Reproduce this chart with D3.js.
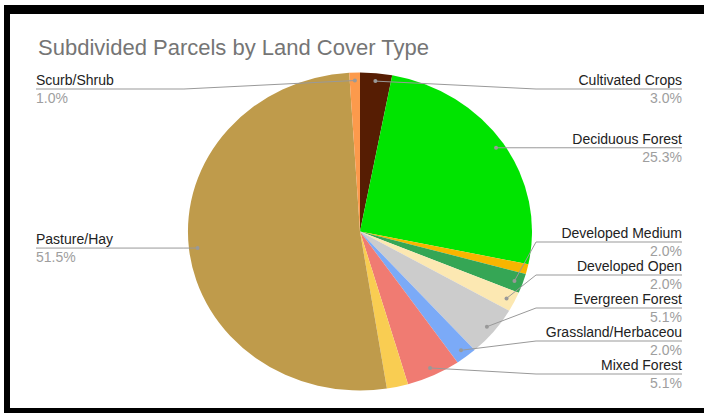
<!DOCTYPE html>
<meta charset="utf-8">
<style>
  body { margin: 0; background: #fff; }
  text { font-family: "Liberation Sans", Arial, sans-serif; }
</style>
<body>

<div class="chart"></div>

<!-- load the d3.js library -->
<script src="https://d3js.org/d3.v7.min.js"></script>

<script>

// chart data (percent of subdivided parcels)
var categories = ["Cultivated Crops", "Deciduous Forest", "Developed High", "Developed Medium",
                  "Developed Open", "Evergreen Forest", "Grassland/Herbaceou", "Mixed Forest",
                  "Open Water", "Pasture/Hay", "Scurb/Shrub"];
var values = [3.0, 25.3, 1.0, 2.0, 2.0, 5.1, 2.0, 5.1, 2.0, 51.5, 1.0];
var colors = ["#561d03", "#00e400", "#f8b500", "#35a655", "#fce8b2", "#cccccc",
              "#7baaf7", "#f07b72", "#f9cd52", "#bf9b4b", "#fc9a4c"];
// slices too thin to get a label in the original
var hidden = ["Developed High", "Open Water"];

var width = 704, height = 413;
var cx = 360, cy = 231.5, r = 159, sx = 1.082;   // pie is a bit stretched sideways

var svg = d3.select(".chart").append("svg")
    .attr("width", width)
    .attr("height", height);

// black frame
svg.append("rect").attr("x", 0).attr("y", 0).attr("width", width).attr("height", height).attr("fill", "#fff");
svg.append("rect").attr("x", 4).attr("y", 5).attr("width", 700).attr("height", 9).attr("fill", "#000");
svg.append("rect").attr("x", 4).attr("y", 5).attr("width", 6).attr("height", 408).attr("fill", "#000");
svg.append("rect").attr("x", 4).attr("y", 408).attr("width", 700).attr("height", 5).attr("fill", "#000");

// title
svg.append("text")
    .attr("x", 38)
    .attr("y", 55)
    .attr("font-size", "22px")
    .attr("fill", "#757575")
    .text("Subdivided Parcels by Land Cover Type");

var data = categories.map(function(c, i) { return {name: c, value: values[i], color: colors[i]}; });
var total = d3.sum(values);
var pct = d3.format(".1%");

var pie = d3.pie().sort(null).value(function(d) { return d.value; });
var arc = d3.arc().innerRadius(0).outerRadius(r);
var arcs = pie(data);

var g = svg.append("g")
    .attr("transform", "translate(" + cx + "," + cy + ") scale(" + sx + ",1)");

g.selectAll("path")
    .data(arcs)
  .enter().append("path")
    .attr("d", arc)
    .attr("fill", function(d) { return d.data.color; });

// label anchor points inside each slice
var labels = arcs.filter(function(d) { return hidden.indexOf(d.data.name) < 0; })
  .map(function(d) {
    var a = (d.startAngle + d.endAngle) / 2;
    var px = cx + sx * 0.95 * r * Math.sin(a);
    var py = cy - 0.95 * r * Math.cos(a);
    return {d: d, px: px, py: py, right: px > cx, y: py};
  });

// push labels apart on each side
var minY = 89, maxY = 374, gap = 33;
[true, false].forEach(function(side) {
  var list = labels.filter(function(l) { return l.right === side; })
      .sort(function(a, b) { return a.py - b.py; });
  list.forEach(function(l, i) {
    l.y = Math.max(minY, Math.min(maxY, l.py));
    if (i > 0) l.y = Math.max(l.y, list[i - 1].y + gap);
  });
  for (var i = list.length - 1; i >= 0; i--) {
    if (list[i].y > maxY) list[i].y = maxY;
    if (i < list.length - 1) list[i].y = Math.min(list[i].y, list[i + 1].y - gap);
  }
});

var rightX = 682, leftX = 36;

labels.forEach(function(l) {
  var elbowX = l.right ? cx + sx * r + 4 : cx - sx * r - 4;
  var endX = l.right ? rightX : leftX;

  svg.append("path")
      .attr("d", "M" + l.px + "," + l.py + "L" + elbowX + "," + l.y + "L" + endX + "," + l.y)
      .attr("fill", "none")
      .attr("stroke", "#999")
      .attr("stroke-width", 1);

  svg.append("circle")
      .attr("cx", l.px)
      .attr("cy", l.py)
      .attr("r", 2)
      .attr("fill", "#999");

  svg.append("text")
      .attr("x", endX)
      .attr("y", l.y - 4)
      .attr("text-anchor", l.right ? "end" : "start")
      .attr("font-size", "14px")
      .attr("fill", "#222")
      .text(l.d.data.name);

  svg.append("text")
      .attr("x", endX)
      .attr("y", l.y + 14)
      .attr("text-anchor", l.right ? "end" : "start")
      .attr("font-size", "14px")
      .attr("fill", "#9e9e9e")
      .text(pct(l.d.data.value / total));
});

</script>

</body>
